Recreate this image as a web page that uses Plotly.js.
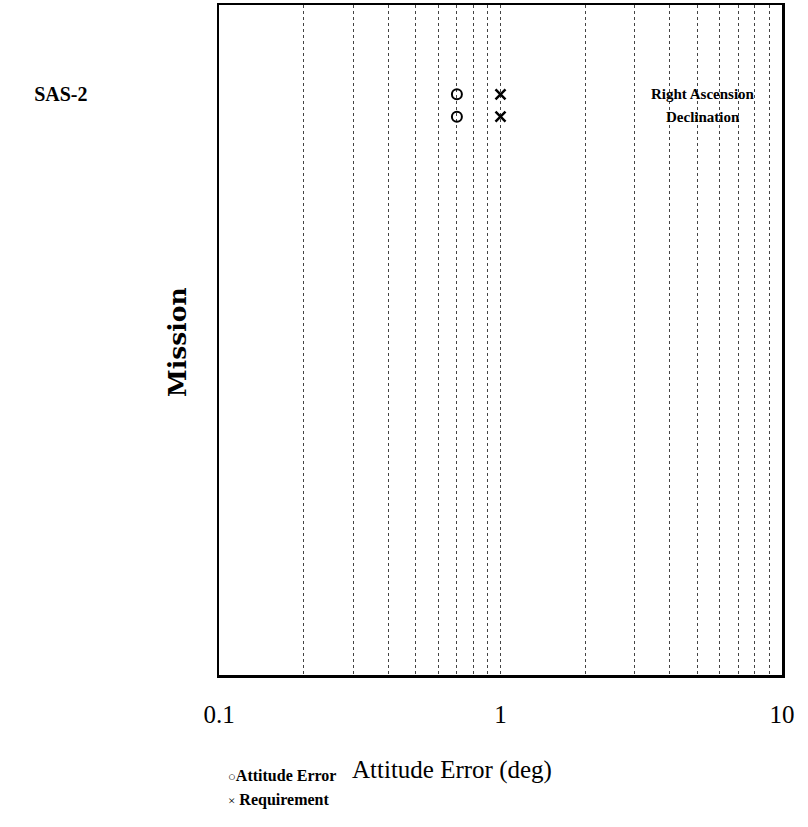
<!DOCTYPE html>
<html>
<head>
<meta charset="utf-8">
<script src="https://cdn.plot.ly/plotly-3.0.1.min.js"></script>
<style>html,body{margin:0;padding:0;background:#fff;}#chart{width:808px;height:827px;}</style>
</head>
<body>
<div id="chart"></div>
<script>
// ---- data ----
const missions = ['SAS-2'];
const components = ['Right Ascension', 'Declination'];
const attitudeError = [0.7, 0.7];
const requirement = [1.0, 1.0];
const xTickVals = [0.1, 0.2, 0.3, 0.4, 0.5, 0.6, 0.7, 0.8, 0.9, 1, 2, 3, 4, 5, 6, 7, 8, 9, 10];
const xTickText = ['0.1', '', '', '', '', '', '', '', '', '1', '', '', '', '', '', '', '', '', '10'];

// ---- layout helpers ----
const yRangeMax = 30;
const yTop = 26;
const rowY = components.map((c, i) => yTop - i);

const serif = 'Liberation Serif, Times New Roman, serif';

const traces = [
  {
    x: attitudeError, y: rowY, type: 'scatter', mode: 'markers', name: 'Attitude Error',
    marker: {symbol: 'circle-open', size: 10, color: '#000', line: {width: 2, color: '#000'}},
    showlegend: false, hoverinfo: 'x'
  },
  {
    x: requirement, y: rowY, type: 'scatter', mode: 'markers', name: 'Requirement',
    marker: {symbol: 'x-thin-open', size: 10, color: '#000', line: {width: 2.5, color: '#000'}},
    showlegend: false, hoverinfo: 'x'
  }
];

const annotations = [];
components.forEach((c, i) => {
  annotations.push({
    text: '<b>' + c + '</b>', xref: 'paper', yref: 'y', x: 0.86, y: rowY[i],
    showarrow: false, xanchor: 'center', yanchor: 'middle',
    font: {family: serif, size: 15, color: '#000'}
  });
});
annotations.push({
  text: '<b>Mission</b>', xref: 'paper', yref: 'paper', x: -0.0746, y: 0.497,
  textangle: -90, showarrow: false, xanchor: 'center', yanchor: 'middle',
  font: {family: 'DejaVu Serif, serif', size: 25, color: '#000'}
});
annotations.push({
  text: 'Attitude Error (deg)', xref: 'paper', yref: 'paper', x: 0.414, y: -0.142,
  showarrow: false, xanchor: 'center', yanchor: 'middle',
  font: {family: serif, size: 25, color: '#000'}
});
annotations.push({
  text: '<span style="font-size:13px">○</span><b>Attitude Error</b>', xref: 'paper', yref: 'paper', x: 0.013, y: -0.1507,
  showarrow: false, xanchor: 'left', yanchor: 'middle',
  font: {family: serif, size: 16, color: '#000'}
});
annotations.push({
  text: '<span style="font-size:13px">×</span> <b>Requirement</b>', xref: 'paper', yref: 'paper', x: 0.013, y: -0.1866,
  showarrow: false, xanchor: 'left', yanchor: 'middle',
  font: {family: serif, size: 16, color: '#000'}
});

const layout = {
  width: 808, height: 827,
  margin: {l: 219, r: 26, t: 5, b: 152},
  paper_bgcolor: '#fff', plot_bgcolor: '#fff',
  showlegend: false,
  xaxis: {
    type: 'log', range: [-1, 1],
    tickmode: 'array', tickvals: xTickVals, ticktext: xTickText,
    ticks: '', ticklabelstandoff: 15,
    tickfont: {family: serif, size: 25, color: '#000'},
    showgrid: true, gridcolor: '#444', gridwidth: 1, griddash: 'dot',
    showline: true, mirror: true, linecolor: '#000', linewidth: 2.5,
    zeroline: false
  },
  yaxis: {
    range: [0, yRangeMax],
    tickmode: 'array', tickvals: [rowY[0]], ticktext: ['<b>' + missions[0] + '</b>'],
    ticks: '', ticklabelstandoff: 125,
    tickfont: {family: serif, size: 20, color: '#000'},
    showgrid: false, zeroline: false,
    showline: true, mirror: true, linecolor: '#000', linewidth: 2.5
  },
  annotations: annotations
};

Plotly.newPlot('chart', traces, layout, {staticPlot: true});
</script>
</body>
</html>
